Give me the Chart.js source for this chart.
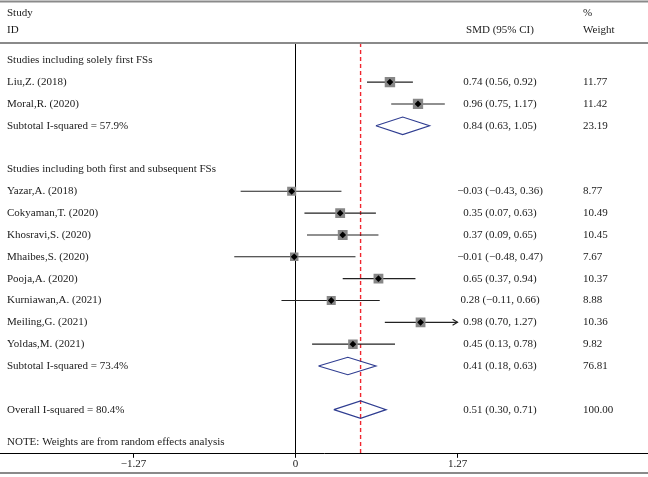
<!DOCTYPE html>
<html>
<head>
<meta charset="utf-8">
<script src="https://cdn.jsdelivr.net/npm/chart.js@4.4.0/dist/chart.umd.min.js"></script>
<style>
  html, body { margin: 0; padding: 0; background: #fff; }
  #wrap { width: 648px; height: 477px; }
</style>
</head>
<body>
<div id="wrap"><canvas id="forest" width="648" height="477"></canvas></div>
<script>
// dados dos estudos
const studies = ['Liu,Z. (2018)', 'Moral,R. (2020)', 'Yazar,A. (2018)', 'Cokyaman,T. (2020)',
  'Khosravi,S. (2020)', 'Mhaibes,S. (2020)', 'Pooja,A. (2020)', 'Kurniawan,A. (2021)',
  'Meiling,G. (2021)', 'Yoldas,M. (2021)'];
const studyRows = [1, 2, 6, 7, 8, 9, 10, 11, 12, 13];
const smd = [0.74, 0.96, -0.03, 0.35, 0.37, -0.01, 0.65, 0.28, 0.98, 0.45];
const ciLow = [0.56, 0.75, -0.43, 0.07, 0.09, -0.48, 0.37, -0.11, 0.70, 0.13];
const ciHigh = [0.92, 1.17, 0.36, 0.63, 0.65, 0.47, 0.94, 0.66, 1.27, 0.78];
const weights = [11.77, 11.42, 8.77, 10.49, 10.45, 7.67, 10.37, 8.88, 10.36, 9.82];

// estimativas agrupadas
const pooledLabels = ['Subtotal I-squared = 57.9%', 'Subtotal I-squared = 73.4%', 'Overall I-squared = 80.4%'];
const pooledRows = [3, 14, 16];
const pooledSmd = [0.84, 0.41, 0.51];
const pooledLow = [0.63, 0.18, 0.30];
const pooledHigh = [1.05, 0.63, 0.71];
const pooledWeights = [23.19, 76.81, 100.00];

const groupLabels = ['Studies including solely first FSs', 'Studies including both first and subsequent FSs'];
const groupRows = [0, 5];
const noteText = 'NOTE: Weights are from random effects analysis';
const noteRow = 17.5;
const xTicks = [-1.27, 0, 1.27];

const X_MIN = -2.3157, X_MAX = 2.7623;
const Y_TOP = -0.79, Y_BOTTOM = 18.02;
const FONT = '11px "Liberation Serif", "DejaVu Serif", serif';

function fmt(v) {
    const s = Math.abs(v).toFixed(2);
    return v < 0 ? '\u2212' + s : s;
}

const datasets = [];

// pontos centrais (losango preto)
datasets.push({
    type: 'scatter',
    data: smd.map((v, i) => ({ x: v, y: studyRows[i] })),
    pointStyle: 'rectRot',
    pointRadius: 3.4,
    backgroundColor: '#000',
    borderWidth: 0,
    order: 0
});

// quadrados de peso
datasets.push({
    type: 'scatter',
    data: smd.map((v, i) => ({ x: v, y: studyRows[i] })),
    pointStyle: 'rect',
    pointRadius: weights.map(w => 2.15 * Math.sqrt(w)),
    backgroundColor: '#878787',
    borderWidth: 0,
    order: 1
});

// intervalos de confiança
studyRows.forEach(function(r, i) {
    datasets.push({
        type: 'scatter',
        showLine: true,
        data: [{ x: ciLow[i], y: r }, { x: Math.min(ciHigh[i], xTicks[2]), y: r }],
        borderColor: '#222',
        borderWidth: 1.1,
        pointRadius: 0,
        order: 2
    });
});

// losangos das estimativas agrupadas
pooledRows.forEach(function(r, i) {
    datasets.push({
        type: 'scatter',
        showLine: true,
        data: [
            { x: pooledLow[i], y: r },
            { x: pooledSmd[i], y: r - 0.4 },
            { x: pooledHigh[i], y: r },
            { x: pooledSmd[i], y: r + 0.4 },
            { x: pooledLow[i], y: r }
        ],
        borderColor: '#2f3d91',
        borderWidth: 1.2,
        pointRadius: 0,
        tension: 0,
        order: 2
    });
});

// linha do zero
datasets.push({
    type: 'scatter',
    showLine: true,
    data: [{ x: 0, y: Y_TOP }, { x: 0, y: Y_BOTTOM }],
    borderColor: '#000',
    borderWidth: 1,
    pointRadius: 0,
    order: 3
});

// linha da estimativa geral
datasets.push({
    type: 'scatter',
    showLine: true,
    data: [{ x: pooledSmd[2], y: Y_TOP }, { x: pooledSmd[2], y: Y_BOTTOM }],
    borderColor: '#f0262e',
    borderWidth: 1.4,
    borderDash: [4, 3],
    pointRadius: 0,
    order: 3
});

const textPlugin = {
    id: 'forestText',
    beforeDraw(chart) {
        const ctx = chart.ctx;
        ctx.save();
        ctx.fillStyle = '#fff';
        ctx.fillRect(0, 0, chart.width, chart.height);
        ctx.restore();
    },
    afterDraw(chart) {
        const ctx = chart.ctx;
        const xs = chart.scales.x;
        const ys = chart.scales.y;
        ctx.save();

        // linhas da tabela
        ctx.strokeStyle = '#8a8a8a';
        ctx.lineWidth = 2;
        [1.5, 43, 473].forEach(function(yy) {
            ctx.beginPath();
            ctx.moveTo(0, yy);
            ctx.lineTo(chart.width, yy);
            ctx.stroke();
        });

        // setas para IC cortado
        ctx.strokeStyle = '#222';
        ctx.lineWidth = 1.1;
        ciHigh.forEach(function(h, i) {
            if (h >= xTicks[2]) {
                const px = xs.getPixelForValue(xTicks[2]);
                const py = ys.getPixelForValue(studyRows[i]);
                ctx.beginPath();
                ctx.moveTo(px - 5, py - 3);
                ctx.lineTo(px, py);
                ctx.lineTo(px - 5, py + 3);
                ctx.stroke();
            }
        });

        ctx.font = FONT;
        ctx.fillStyle = '#1a1a1a';
        ctx.textBaseline = 'middle';

        // cabeçalho
        ctx.textAlign = 'left';
        ctx.fillText('Study', 7, 13);
        ctx.fillText('ID', 7, 30);
        ctx.fillText('%', 583, 13);
        ctx.fillText('Weight', 583, 30);
        ctx.textAlign = 'center';
        ctx.fillText('SMD (95% CI)', 500, 30);

        function row(label, r, est, lo, hi, w) {
            const py = ys.getPixelForValue(r);
            ctx.textAlign = 'left';
            ctx.fillText(label, 7, py);
            if (est === undefined) return;
            ctx.textAlign = 'center';
            ctx.fillText(fmt(est) + ' (' + fmt(lo) + ', ' + fmt(hi) + ')', 500, py);
            ctx.textAlign = 'left';
            ctx.fillText(w.toFixed(2), 583, py);
        }

        groupLabels.forEach((g, i) => row(g, groupRows[i]));
        studies.forEach((s, i) => row(s, studyRows[i], smd[i], ciLow[i], ciHigh[i], weights[i]));
        pooledLabels.forEach((p, i) => row(p, pooledRows[i], pooledSmd[i], pooledLow[i], pooledHigh[i], pooledWeights[i]));
        row(noteText, noteRow);

        ctx.restore();
    }
};

const chart = new Chart(document.getElementById('forest').getContext('2d'), {
    type: 'scatter',
    data: { datasets: datasets },
    options: {
        responsive: false,
        animation: false,
        devicePixelRatio: 1,
        layout: { autoPadding: false, padding: { top: 43, left: 0, right: 0, bottom: 6 } },
        plugins: { legend: { display: false }, tooltip: { enabled: false } },
        scales: {
            x: {
                type: 'linear',
                min: X_MIN,
                max: X_MAX,
                afterBuildTicks: function(axis) {
                    axis.ticks = xTicks.map(v => ({ value: v }));
                },
                ticks: {
                    autoSkip: false,
                    maxRotation: 0,
                    color: '#1a1a1a',
                    font: { family: '"Liberation Serif", "DejaVu Serif", serif', size: 11 },
                    padding: 0,
                    callback: v => v === 0 ? '0' : fmt(v)
                },
                grid: { drawOnChartArea: false, drawTicks: true, tickLength: 4, color: '#000' },
                border: { display: true, color: '#000', width: 1 }
            },
            y: {
                type: 'linear',
                display: false,
                reverse: true,
                min: Y_TOP,
                max: Y_BOTTOM
            }
        }
    },
    plugins: [textPlugin]
});
</script>
</body>
</html>
